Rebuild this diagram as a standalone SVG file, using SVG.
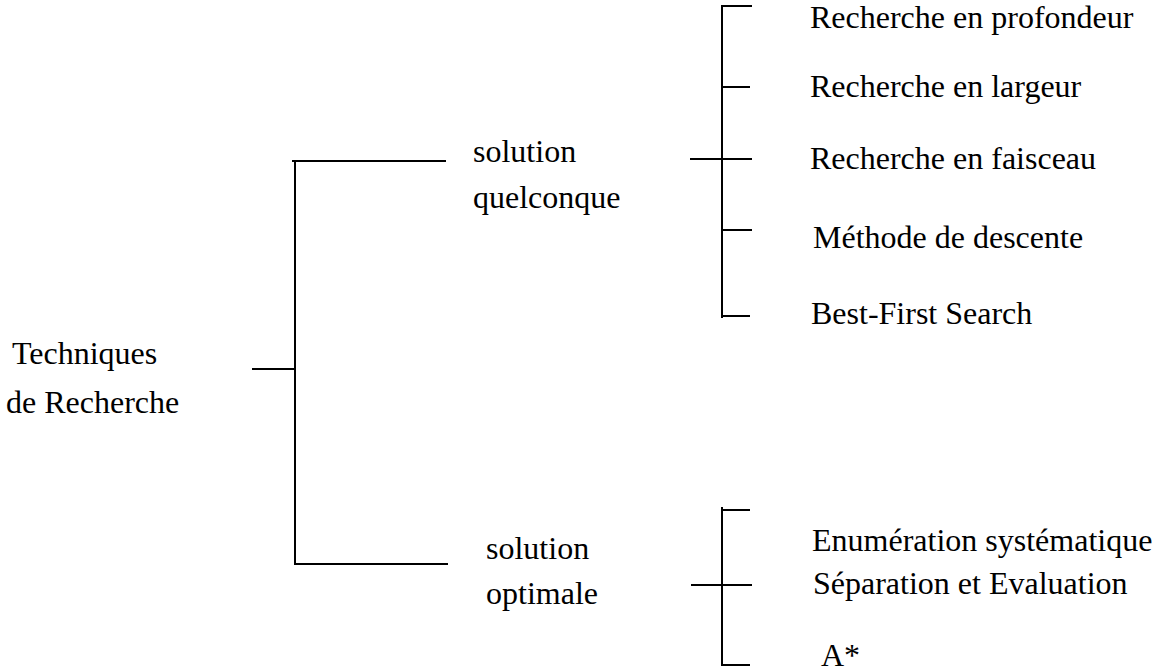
<svg xmlns="http://www.w3.org/2000/svg" width="1153" height="671" viewBox="0 0 1153 671">
<style>
.t{font-family:"Liberation Serif","Times New Roman",serif;font-size:32px;fill:#000}
.c line{stroke:#000;stroke-width:2;stroke-linecap:square}
</style>
<rect width="1153" height="671" fill="#fff"/>
<g id="connectors" class="c">
<line x1="253" y1="369" x2="295" y2="369"/>
<line x1="295" y1="161" x2="295" y2="564"/>
<line x1="293" y1="161" x2="445" y2="161"/>
<line x1="295" y1="564" x2="447" y2="564"/>
<line x1="722" y1="6" x2="722" y2="317"/>
<line x1="722" y1="6" x2="751" y2="6"/>
<line x1="722" y1="87" x2="749" y2="87"/>
<line x1="691" y1="159" x2="751" y2="159"/>
<line x1="722" y1="230" x2="751" y2="230"/>
<line x1="722" y1="316" x2="749" y2="316"/>
<line x1="722" y1="508" x2="722" y2="665"/>
<line x1="722" y1="510" x2="749" y2="510"/>
<line x1="692" y1="585" x2="751" y2="585"/>
<line x1="722" y1="665" x2="749" y2="665"/>
</g>
<g id="root"><text class="t" x="12" y="364">Techniques</text><text class="t" x="6" y="413">de Recherche</text></g>
<g id="quelconque"><text class="t" x="473" y="162">solution</text><text class="t" x="473" y="208">quelconque</text></g>
<g id="optimale"><text class="t" x="486" y="559">solution</text><text class="t" x="486" y="604">optimale</text></g>
<g id="profondeur"><text class="t" x="810" y="28">Recherche en profondeur</text></g>
<g id="largeur"><text class="t" x="810" y="97">Recherche en largeur</text></g>
<g id="faisceau"><text class="t" x="810" y="169">Recherche en faisceau</text></g>
<g id="descente"><text class="t" x="813" y="248">Méthode de descente</text></g>
<g id="bestfirst"><text class="t" x="811" y="324">Best-First Search</text></g>
<g id="enumeration"><text class="t" x="812" y="551">Enumération systématique</text></g>
<g id="separation"><text class="t" x="813" y="594">Séparation et Evaluation</text></g>
<g id="astar"><text class="t" x="821" y="666">A*</text></g>
</svg>
